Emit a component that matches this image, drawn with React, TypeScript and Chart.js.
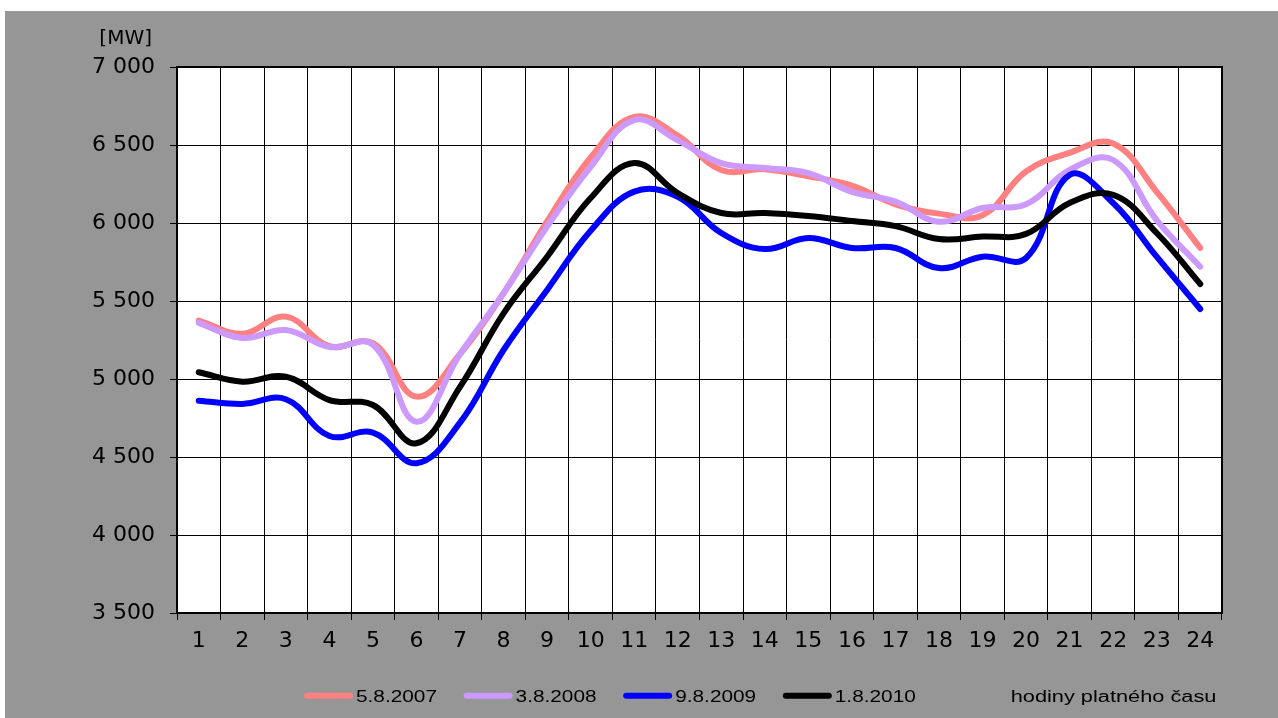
import React, { useEffect, useRef } from 'react';
import { Chart, registerables } from 'chart.js';

Chart.register(...registerables);

const hours = ['1', '2', '3', '4', '5', '6', '7', '8', '9', '10', '11', '12', '13', '14', '15', '16', '17', '18', '19', '20', '21', '22', '23', '24'];

const load2007 = [5375, 5290, 5400, 5210, 5230, 4887, 5160, 5550, 6010, 6420, 6680, 6560, 6340, 6345, 6300, 6240, 6120, 6060, 6050, 6330, 6450, 6510, 6200, 5840];
const load2008 = [5360, 5263, 5314, 5205, 5220, 4726, 5160, 5550, 5977, 6360, 6660, 6530, 6384, 6352, 6320, 6200, 6137, 6008, 6096, 6120, 6340, 6404, 6019, 5720];
const load2009 = [4861, 4840, 4870, 4635, 4656, 4460, 4720, 5186, 5571, 5950, 6201, 6168, 5936, 5833, 5904, 5840, 5840, 5711, 5784, 5776, 6308, 6128, 5784, 5449];
const load2010 = [5043, 4983, 5015, 4865, 4833, 4588, 4950, 5421, 5784, 6160, 6385, 6192, 6064, 6064, 6045, 6013, 5980, 5897, 5913, 5930, 6128, 6180, 5936, 5609];

const seriesLabels = ['5.8.2007', '3.8.2008', '9.8.2009', '1.8.2010'];
const seriesColors = ['#FF8080', '#CC99FF', '#0000FF', '#000000'];

const yMin = 3500;
const yMax = 7000;
const yStep = 500;
const yUnit = '[MW]';
const xTitle = 'hodiny platného času';

const fmt = (v: number) => String(v).replace(/\B(?=(\d{3})+(?!\d))/g, ' ');

const decor = {
  id: 'decor',
  beforeDraw(chart: any) {
    const { ctx, chartArea: a } = chart;
    ctx.save();
    ctx.fillStyle = '#FFFFFF';
    ctx.fillRect(a.left, a.top, a.right - a.left, a.bottom - a.top);
    ctx.restore();
  },
  afterDraw(chart: any) {
    const { ctx, chartArea: a } = chart;
    ctx.save();
    ctx.strokeStyle = '#000';
    ctx.lineWidth = 2;
    ctx.strokeRect(a.left, a.top, a.right - a.left, a.bottom - a.top);

    ctx.fillStyle = '#000';
    ctx.font = '20px "DejaVu Sans"';
    ctx.textAlign = 'right';
    ctx.textBaseline = 'middle';
    ctx.fillText(yUnit, 147, 28);

    const legendY = 684.7;
    const textBase = 691.3;
    const start0 = 299;
    const spacing = 159.6;
    const lineLen = 49;
    const sx = 1.3;
    seriesLabels.forEach((lab, i) => {
      const x = start0 + i * spacing;
      ctx.beginPath();
      ctx.strokeStyle = seriesColors[i];
      ctx.lineWidth = 6;
      ctx.lineCap = 'round';
      ctx.moveTo(x + 3, legendY);
      ctx.lineTo(x + lineLen - 3, legendY);
      ctx.stroke();
      ctx.save();
      ctx.translate(x + lineLen + 3, textBase);
      ctx.scale(sx, 1);
      ctx.font = '16px "Liberation Sans"';
      ctx.textAlign = 'left';
      ctx.textBaseline = 'alphabetic';
      ctx.fillStyle = '#000';
      ctx.fillText(lab, 0, 0);
      ctx.restore();
    });
    ctx.save();
    ctx.translate(1005.7, textBase);
    ctx.scale(1.36, 1);
    ctx.font = '16px "Liberation Sans"';
    ctx.textAlign = 'left';
    ctx.textBaseline = 'alphabetic';
    ctx.fillStyle = '#000';
    ctx.fillText(xTitle, 0, 0);
    ctx.restore();
    ctx.restore();
  },
};

export default function App() {
  const ref = useRef<HTMLCanvasElement>(null);
  useEffect(() => {
    if (!ref.current) return;
    const all = [load2007, load2008, load2009, load2010];
    const chart = new Chart(ref.current, {
      type: 'line',
      data: {
        labels: hours,
        datasets: all.map((d, i) => ({
          label: seriesLabels[i],
          data: d,
          borderColor: seriesColors[i],
          backgroundColor: seriesColors[i],
          borderWidth: 6,
          pointRadius: 0,
          pointHoverRadius: 0,
          tension: 0.4,
          borderCapStyle: 'round' as const,
          borderJoinStyle: 'round' as const,
          fill: false,
          order: 3 - i,
        })),
      },
      options: {
        responsive: false,
        animation: false,
        devicePixelRatio: 1,
        layout: { padding: { left: 0, top: 56, right: 56, bottom: 0 } },
        plugins: {
          legend: { display: false },
          tooltip: { enabled: false },
          title: { display: false },
        },
        scales: {
          x: {
            type: 'category',
            offset: true,
            grid: {
              offset: true,
              color: '#000',
              lineWidth: 1,
              tickLength: 7,
              drawTicks: true,
            },
            border: { display: true, color: '#000', width: 2 },
            ticks: {
              color: '#000',
              font: { family: '"DejaVu Sans"', size: 22 },
              padding: 8,
              maxRotation: 0,
              autoSkip: false,
            },
            afterFit: (s: any) => { s.height = 105; },
          },
          y: {
            min: yMin,
            max: yMax,
            grid: { color: '#000', lineWidth: 1, tickLength: 7 },
            border: { display: true, color: '#000', width: 2 },
            ticks: {
              stepSize: yStep,
              color: '#000',
              font: { family: '"DejaVu Sans"', size: 22 },
              padding: 15,
              callback: (v: any) => fmt(Number(v)),
            },
            afterFit: (s: any) => { s.width = 172; },
          },
        },
      },
      plugins: [decor],
    });
    return () => chart.destroy();
  }, []);
  return (
    <div style={{ position: 'fixed', left: 5, top: 11, width: 1273, height: 707, background: '#969696' }}>
      <canvas ref={ref} width={1273} height={707} style={{ display: 'block' }} />
    </div>
  );
}
